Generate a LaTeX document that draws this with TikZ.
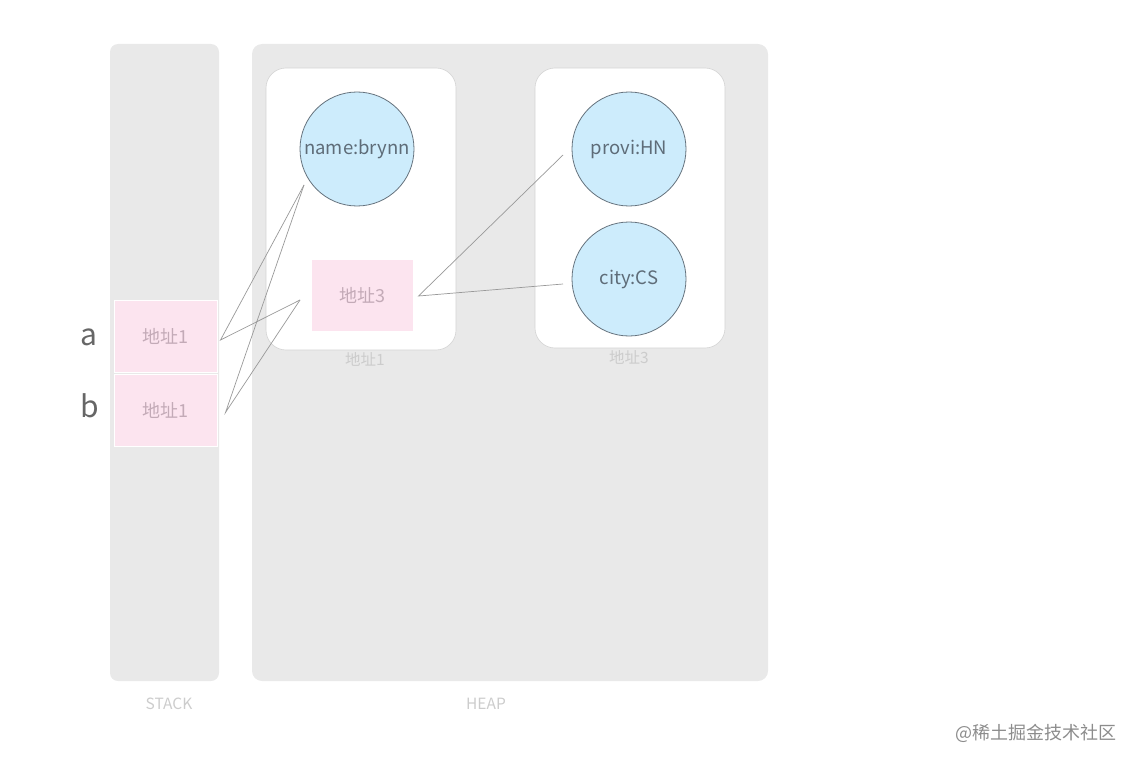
\documentclass[tikz,border=0pt]{standalone}
\usepackage{fontspec}
\setmainfont{Noto Sans CJK SC}
\usetikzlibrary{positioning}

\definecolor{areagray}{HTML}{E9E9E9}
\definecolor{objblue}{HTML}{CDECFC}
\definecolor{objline}{HTML}{66737E}
\definecolor{objtext}{HTML}{5E6C78}
\definecolor{addrpink}{HTML}{FCE4EF}
\definecolor{addrtext}{HTML}{C3AAB7}
\definecolor{labgray}{HTML}{CCCCCC}

\tikzset{
  area/.style={fill=areagray,rounded corners=8pt},
  objbox/.style={fill=white,draw=areagray!80!gray,line width=0.6pt,rounded corners=20pt},
  field/.style={circle,fill=objblue,draw=objline,line width=0.8pt,minimum size=114pt,inner sep=0pt,text=objtext,font=\fontsize{18.5}{22}\selectfont},
  addr/.style={rectangle,fill=addrpink,draw=white,line width=1pt,minimum width=103pt,minimum height=72pt,text=addrtext,font=\fontsize{18}{21}\selectfont},
  varname/.style={text=black!60,font=\fontsize{30}{34}\selectfont},
  caption/.style={text=labgray,font=\fontsize{15.5}{18}\selectfont},
  ref/.style={draw=black!40,line width=0.7pt}
}

\begin{document}
\begin{tikzpicture}[x=1pt,y=-1pt]
\useasboundingbox (0,0) rectangle (1138,765);
% stack and heap areas
\fill[area] (110,44) rectangle (219,681);
\fill[area,rounded corners=10pt] (252,44) rectangle (768,681);
\node[caption] (stacklab) at (169,704) {STACK};
\node[caption] (heaplab) at (486,704) {HEAP};
% objects
\draw[objbox] (266,68) rectangle (456,350);
\draw[objbox] (535,68) rectangle (725,348);
\node[caption] (obj1lab) at (365,359) {地址1};
\node[caption] (obj3lab) at (629,357) {地址3};
\node[field] (name) at (357,149) {name:brynn};
\node[field] (provi) at (629,149) {provi:HN};
\node[field] (city) at (629,279) {city:CS};
\node[addr,draw=none,minimum width=101pt,minimum height=71pt] (addr3) at (362.5,295.5) {地址3};
% variables on the stack
\node[addr] (cella) at (165.5,336) {地址1};
\node[addr] (cellb) at (165.5,410.5) {地址1};
\node[varname] (vara) at (89,337) {a};
\node[varname] (varb) at (90,406) {b};
% references
\coordinate (aout) at ([xshift=3pt,yshift=-4pt]cella.east);
\coordinate (bout) at ([xshift=8pt,yshift=-2pt]cellb.east);
\coordinate (namein) at (304,185);
\coordinate (addrin) at (300,300);
\coordinate (addrout) at ([xshift=5pt,yshift=-0.5pt]addr3.east);
\coordinate (proviin) at (563,155);
\coordinate (cityin) at (563,284);
\draw[ref] (namein) -- (aout) -- (addrin);
\draw[ref] (namein) -- (bout) -- (addrin);
\draw[ref] (proviin) -- (addrout) -- (cityin);
% watermark
\node[text=black!45,font=\fontsize{18}{21}\selectfont] (mark) at (1036,733) {@稀土掘金技术社区};
\end{tikzpicture}
\end{document}
